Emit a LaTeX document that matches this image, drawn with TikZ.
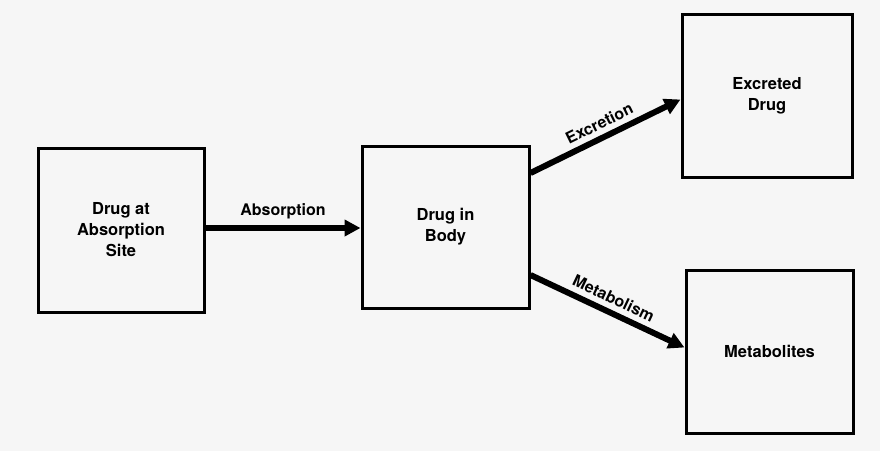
\documentclass[tikz,border=0pt]{standalone}
\usepackage{fontspec}
\setmainfont{TeX Gyre Heros}
\usetikzlibrary{arrows.meta}

\begin{document}
\begin{tikzpicture}[x=1pt, y=-1pt,
    stage/.style={rectangle, draw, line width=3pt, align=center,
        font=\fontsize{16.5}{21}\selectfont\bfseries, inner sep=0pt},
    flow/.style={line width=6pt, -{Triangle[length=16pt, width=16pt]}},
    lbl/.style={font=\fontsize{16}{19}\selectfont\bfseries}]
    \fill[gray!7] (0,0) rectangle (880,451);
    \node[stage, minimum width=166pt, minimum height=164pt] (site) at (121,230) {Drug at\\Absorption\\Site};
    \node[stage, minimum width=167pt, minimum height=162pt] (body) at (445.5,227) {Drug in\\Body};
    \node[stage, minimum width=170pt, minimum height=163pt] (excr) at (767,95.5) {Excreted\\Drug};
    \node[stage, minimum width=167pt, minimum height=163pt] (meta) at (769.5,351.5) {Metabolites};
    \draw[flow] ([yshift=2pt]site.east) -- node[lbl, above=3pt] {Absorption} ([yshift=-1pt]body.west);
    \draw[flow] ([yshift=54pt]body.east) -- node[lbl, sloped, above=2pt] {Excretion} ([yshift=-4pt]excr.west);
    \draw[flow] ([yshift=-48pt]body.east) -- node[lbl, sloped, above=2pt] {Metabolism} ([yshift=4pt]meta.west);
\end{tikzpicture}
\end{document}
